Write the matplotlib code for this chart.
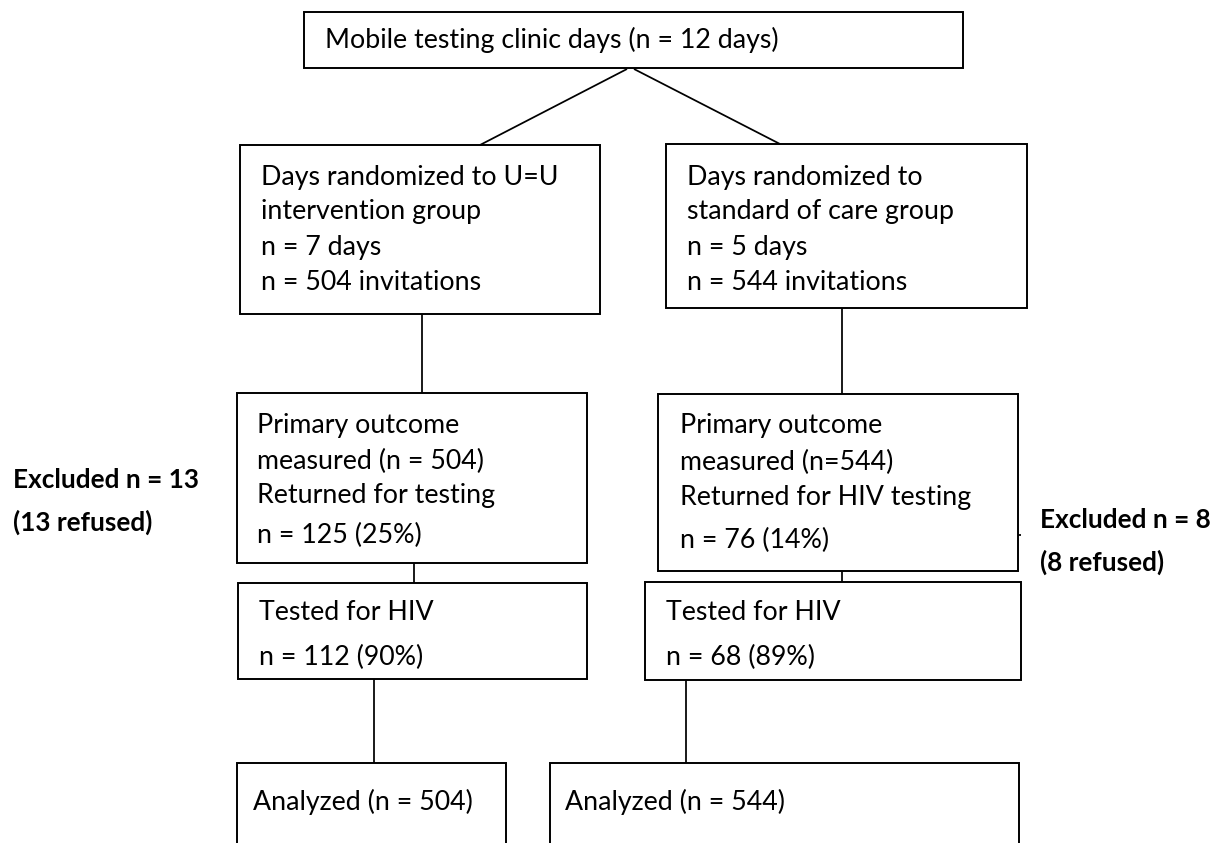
import matplotlib
matplotlib.use("Agg")
import matplotlib.pyplot as plt
from matplotlib.patches import Rectangle

# ---- content ----
top_text = ["Mobile testing clinic days (n = 12 days)"]
left_texts = [
    ["Days randomized to U=U", "intervention group", "n = 7 days", "n = 504 invitations"],
    ["Primary outcome", "measured (n = 504)", "Returned for testing", "n = 125 (25%)"],
    ["Tested for HIV", "n = 112 (90%)"],
    ["Analyzed (n = 504)"],
]
right_texts = [
    ["Days randomized to", "standard of care group", "n = 5 days", "n = 544 invitations"],
    ["Primary outcome", "measured (n=544)", "Returned for HIV testing", "n = 76 (14%)"],
    ["Tested for HIV", "n = 68 (89%)"],
    ["Analyzed (n = 544)"],
]
excluded_left = ["Excluded n = 13", "(13 refused)"]
excluded_right = ["Excluded n = 8", "(8 refused)"]

W, H = 1221, 843
fig = plt.figure(figsize=(W / 100, H / 100), dpi=100)
ax = fig.add_axes([0, 0, 1, 1])
ax.set_xlim(0, W)
ax.set_ylim(H, 0)
ax.axis("off")

FONT = "Lato"
FS = 19.3
FSB = 18.8
LW = 1.4


def box(x0, y0, x1, y1, open_bottom=False):
    if open_bottom:
        ax.plot([x0, x0, x1, x1], [y1, y0, y0, y1], color="black", lw=LW,
                solid_joinstyle="miter", clip_on=False)
    else:
        ax.add_patch(Rectangle((x0, y0), x1 - x0, y1 - y0, fill=False,
                               edgecolor="black", lw=LW))


def line(xs, ys):
    ax.plot(xs, ys, color="black", lw=LW * 0.9, solid_capstyle="butt")


def lines_of_text(x, ys, texts, bold=False):
    for y, t in zip(ys, texts):
        ax.text(x, y, t, fontsize=FSB if bold else FS, family=FONT,
                va="center", ha="left",
                fontweight="bold" if bold else "normal", color="black")


# top box
box(304, 12, 963, 68)
lines_of_text(325, [40], top_text)
line([627, 480], [69, 145])
line([634, 780], [69, 144])

# left column
box(240, 145, 600, 314)
lines_of_text(261, [177, 212, 247, 282], left_texts[0])
line([422, 422], [314, 393])
box(237, 393, 587, 563)
lines_of_text(257, [425, 461, 496, 535], left_texts[1])
line([414, 414], [563, 583])
box(238, 583, 587, 679)
lines_of_text(259, [613, 657], left_texts[2])
line([374, 374], [679, 763])
box(237, 763, 506, 850, open_bottom=True)
lines_of_text(253, [802], left_texts[3])

# right column
box(666, 144, 1027, 308)
lines_of_text(687, [177, 212, 247, 282], right_texts[0])
line([842, 842], [308, 394])
box(658, 394, 1018, 571)
lines_of_text(680, [425, 462, 498, 540], right_texts[1])
line([1018, 1021], [535, 535])
line([842, 842], [571, 582])
box(645, 582, 1021, 680)
lines_of_text(666, [613, 657], right_texts[2])
line([686, 686], [680, 763])
box(550, 763, 1019, 850, open_bottom=True)
lines_of_text(565, [802], right_texts[3])

# exclusions
lines_of_text(13, [480, 522], excluded_left, bold=True)
lines_of_text(1040, [520, 562], excluded_right, bold=True)

fig.savefig("out.png", dpi=100, facecolor="white")
